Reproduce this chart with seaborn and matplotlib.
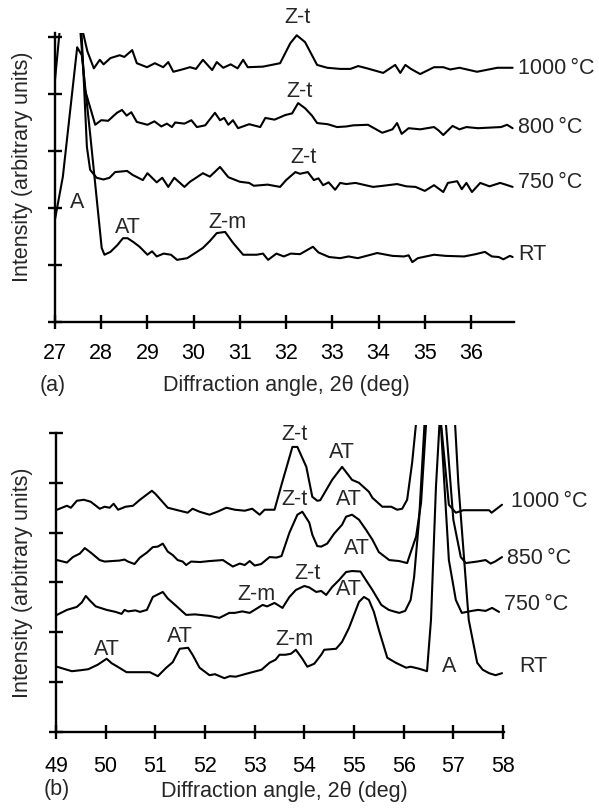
import matplotlib
matplotlib.use("Agg")
import matplotlib.pyplot as plt
import seaborn as sns

# ---------------- Panel (a): 27-37 deg ----------------
x_1000_a = [27.0, 27.1, 27.35, 27.6, 27.7, 27.84, 27.97, 28.05, 28.2, 28.4, 28.5, 28.67, 28.77,
            28.99, 29.16, 29.34, 29.45, 29.56, 29.75, 29.92, 30.05, 30.2, 30.4, 30.5, 30.64, 30.8,
            30.95, 31.07, 31.17, 31.5, 31.87, 32.09, 32.23, 32.41, 32.67, 32.89, 33.17, 33.39,
            33.56, 33.75, 34.1, 34.36, 34.47, 34.58, 34.7, 34.9, 35.2, 35.4, 35.55, 35.75, 36.13,
            36.57, 36.9]
y_1000_a = [4.25, 5.1, 7.0, 5.1, 4.75, 4.45, 4.6, 4.52, 4.63, 4.68, 4.65, 4.77, 4.54,
            4.47, 4.54, 4.47, 4.56, 4.39, 4.43, 4.47, 4.44, 4.6, 4.42, 4.56, 4.46, 4.52,
            4.45, 4.6, 4.47, 4.48, 4.54, 4.89, 5.03, 4.91, 4.51, 4.46, 4.44, 4.44,
            4.49, 4.45, 4.37, 4.51, 4.37, 4.51, 4.44, 4.35, 4.47, 4.47, 4.43, 4.46, 4.39,
            4.46, 4.46]

x_800_a = [27.5, 27.65, 27.87, 28.0, 28.15, 28.34, 28.45, 28.55, 28.65, 28.77, 29.0, 29.15, 29.3,
           29.42, 29.53, 29.6, 29.8, 29.95, 30.07, 30.25, 30.46, 30.57, 30.66, 30.75, 30.85, 30.96,
           31.2, 31.44, 31.55, 31.75, 31.98, 32.13, 32.26, 32.41, 32.56, 32.67, 32.9, 33.1, 33.3,
           33.45, 33.77, 34.08, 34.3, 34.4, 34.5, 34.65, 34.9, 35.2, 35.3, 35.4, 35.6, 35.75, 35.9,
           36.15, 36.4, 36.65, 36.78, 36.9]
y_800_a = [5.6, 4.07, 3.46, 3.54, 3.53, 3.67, 3.72, 3.62, 3.68, 3.51, 3.46, 3.52, 3.43,
           3.48, 3.42, 3.5, 3.48, 3.54, 3.42, 3.45, 3.67, 3.54, 3.58, 3.46, 3.54, 3.4,
           3.47, 3.42, 3.58, 3.55, 3.63, 3.66, 3.84, 3.75, 3.62, 3.49, 3.47, 3.42, 3.43,
           3.45, 3.46, 3.32, 3.38, 3.49, 3.3, 3.4, 3.38, 3.42, 3.36, 3.28, 3.44, 3.38, 3.42,
           3.4, 3.41, 3.42, 3.46, 3.4]

x_750_a = [27.55, 27.69, 27.76, 27.9, 28.05, 28.18, 28.3, 28.56, 28.68, 28.9, 29.0, 29.2, 29.32,
           29.45, 29.58, 29.8, 29.92, 30.2, 30.35, 30.57, 30.75, 31.0, 31.2, 31.3, 31.6, 31.87,
           32.0, 32.2, 32.3, 32.47, 32.6, 32.7, 32.8, 32.92, 33.06, 33.17, 33.3, 33.5, 33.88,
           34.1, 34.4, 34.6, 34.8, 35.0, 35.2, 35.4, 35.5, 35.7, 35.8, 35.9, 36.02, 36.2, 36.4,
           36.63, 36.75, 36.9]
y_750_a = [5.5, 3.07, 2.67, 2.53, 2.5, 2.53, 2.63, 2.65, 2.58, 2.49, 2.61, 2.45, 2.53,
           2.37, 2.53, 2.37, 2.46, 2.61, 2.55, 2.72, 2.54, 2.46, 2.44, 2.39, 2.41, 2.37,
           2.49, 2.63, 2.6, 2.63, 2.49, 2.52, 2.4, 2.45, 2.32, 2.44, 2.42, 2.44, 2.37,
           2.39, 2.42, 2.38, 2.37, 2.3, 2.4, 2.28, 2.44, 2.47, 2.33, 2.44, 2.28, 2.44, 2.38,
           2.44, 2.41, 2.37]

x_rt_a = [27.0, 27.17, 27.48, 27.58, 27.76, 28.01, 28.07, 28.2, 28.35, 28.47, 28.57, 28.7, 28.83,
          29.0, 29.1, 29.2, 29.35, 29.51, 29.64, 29.86, 30.07, 30.2, 30.35, 30.5, 30.68, 30.85,
          31.07, 31.36, 31.5, 31.61, 31.79, 31.95, 32.1, 32.3, 32.45, 32.58, 32.7, 32.93, 33.17,
          33.35, 33.55, 33.97, 34.3, 34.55, 34.65, 34.73, 34.85, 35.2, 35.45, 35.85, 36.1, 36.3,
          36.45, 36.6, 36.7, 36.84, 36.9]
y_rt_a = [1.8, 2.55, 4.82, 4.68, 3.3, 1.3, 1.18, 1.23, 1.35, 1.47, 1.47, 1.4, 1.32,
          1.18, 1.24, 1.15, 1.2, 1.18, 1.09, 1.12, 1.23, 1.3, 1.42, 1.56, 1.58, 1.39,
          1.18, 1.18, 1.2, 1.09, 1.2, 1.15, 1.2, 1.19, 1.26, 1.32, 1.22, 1.14, 1.12,
          1.15, 1.12, 1.21, 1.16, 1.15, 1.17, 1.05, 1.12, 1.18, 1.16, 1.15, 1.19, 1.23,
          1.15, 1.14, 1.1, 1.16, 1.14]

ticks_a = [27, 28, 29, 30, 31, 32, 33, 34, 35, 36]
temps_a = ["1000\u2009\u00b0C", "800\u2009\u00b0C", "750\u2009\u00b0C", "RT"]
temp_y_a = [4.44, 3.42, 2.44, 1.19]
peak_lbl_a = ["Z-t", "Z-t", "Z-t", "Z-m", "AT", "A"]
peak_x_a = [32.24, 32.28, 32.37, 30.74, 28.58, 27.48]
peak_y_a = [5.35, 4.04, 2.88, 1.75, 1.65, 2.09]

# ---------------- Panel (b): 49-58 deg ----------------
x_1000_b = [49.02, 49.22, 49.3, 49.42, 49.56, 49.7, 49.88, 49.98, 50.08, 50.16, 50.25, 50.4, 50.55,
            50.69, 50.93, 51.0, 51.25, 51.45, 51.65, 51.75, 51.89, 52.09, 52.25, 52.43, 52.6, 52.8,
            52.95, 53.1, 53.2, 53.4, 53.54, 53.76, 53.86, 54.04, 54.16, 54.26, 54.32, 54.56, 54.76,
            54.96, 55.1, 55.3, 55.37, 55.57, 55.75, 55.87, 55.97, 56.07, 56.17, 56.25, 56.48,
            56.91, 57.05, 57.2, 57.45, 57.72, 57.77, 57.98]
y_1000_b = [4.46, 4.54, 4.5, 4.64, 4.66, 4.62, 4.48, 4.52, 4.5, 4.58, 4.46, 4.52, 4.54,
            4.66, 4.84, 4.78, 4.5, 4.45, 4.4, 4.48, 4.42, 4.36, 4.42, 4.5, 4.46, 4.44,
            4.48, 4.36, 4.46, 4.46, 4.96, 5.72, 5.72, 5.32, 4.72, 4.64, 4.65, 5.06, 5.32,
            5.06, 5.0, 4.82, 4.7, 4.52, 4.52, 4.46, 4.48, 4.66, 5.4, 6.2, 9.0,
            4.56, 4.4, 4.45, 4.45, 4.45, 4.4, 4.56]

x_850_b = [49.02, 49.22, 49.34, 49.48, 49.58, 49.7, 49.88, 49.98, 50.28, 50.38, 50.45, 50.58, 50.69,
           50.83, 50.95, 51.05, 51.15, 51.25, 51.35, 51.45, 51.55, 51.62, 51.72, 51.9, 52.09, 52.36,
           52.56, 52.7, 52.8, 52.9, 53.0, 53.13, 53.3, 53.44, 53.54, 53.7, 53.86, 53.96, 54.1,
           54.16, 54.26, 54.34, 54.46, 54.6, 54.76, 54.84, 54.96, 55.1, 55.24, 55.37, 55.5, 55.71,
           55.91, 56.07, 56.14, 56.25, 56.35, 56.63, 57.0, 57.15, 57.25, 57.48, 57.65, 57.75,
           57.84, 57.98]
y_850_b = [3.45, 3.4, 3.51, 3.58, 3.69, 3.6, 3.45, 3.42, 3.44, 3.46, 3.42, 3.37, 3.5,
           3.6, 3.71, 3.72, 3.78, 3.62, 3.55, 3.45, 3.42, 3.35, 3.42, 3.41, 3.43, 3.45,
           3.32, 3.38, 3.35, 3.43, 3.34, 3.37, 3.51, 3.5, 3.53, 4.0, 4.36, 4.42, 4.2,
           3.96, 3.73, 3.72, 3.78, 3.98, 4.16, 4.32, 4.36, 4.26, 4.06, 3.86, 3.61, 3.45,
           3.43, 3.39, 3.6, 3.92, 4.6, 9.0, 4.26, 3.51, 3.39, 3.42, 3.45, 3.38,
           3.42, 3.51]

x_750_b = [49.02, 49.22, 49.42, 49.52, 49.6, 49.68, 49.8, 50.02, 50.2, 50.32, 50.38, 50.45, 50.6,
           50.69, 50.83, 50.95, 51.15, 51.25, 51.42, 51.62, 51.8, 52.09, 52.29, 52.49, 52.6, 52.75,
           52.9, 53.16, 53.25, 53.4, 53.56, 53.7, 53.83, 54.0, 54.1, 54.24, 54.34, 54.44, 54.56,
           54.7, 54.84, 54.96, 55.13, 55.2, 55.37, 55.55, 55.7, 55.8, 55.91, 56.03, 56.14, 56.21,
           56.31, 56.58, 56.91, 57.05, 57.17, 57.37, 57.5, 57.65, 57.78, 57.92]
y_750_b = [2.35, 2.45, 2.51, 2.6, 2.73, 2.64, 2.52, 2.45, 2.41, 2.37, 2.45, 2.42, 2.44,
           2.41, 2.45, 2.71, 2.81, 2.68, 2.53, 2.35, 2.36, 2.33, 2.29, 2.39, 2.39, 2.42,
           2.39, 2.55, 2.52, 2.59, 2.49, 2.71, 2.85, 2.93, 2.9, 2.81, 2.83, 2.75, 2.91,
           3.05, 3.21, 3.23, 3.22, 3.11, 2.85, 2.55, 2.45, 2.42, 2.39, 2.43, 2.65, 3.11,
           4.26, 9.0, 3.45, 2.65, 2.39, 2.43, 2.45, 2.43, 2.49, 2.41]

x_rt_b = [49.02, 49.15, 49.32, 49.5, 49.65, 49.84, 50.02, 50.12, 50.24, 50.42, 50.6, 50.75, 50.89,
          51.05, 51.22, 51.35, 51.49, 51.66, 51.75, 51.89, 52.09, 52.2, 52.39, 52.5, 52.62, 52.8,
          52.95, 53.14, 53.3, 53.42, 53.5, 53.62, 53.73, 53.83, 53.96, 54.06, 54.2, 54.34, 54.4,
          54.64, 54.76, 54.9, 55.1, 55.2, 55.3, 55.4, 55.5, 55.67, 55.84, 56.05, 56.14, 56.31,
          56.47, 56.55, 56.65, 56.88, 57.1, 57.31, 57.48, 57.59, 57.72, 57.85, 57.98]
y_rt_b = [1.31, 1.27, 1.22, 1.24, 1.26, 1.35, 1.47, 1.38, 1.31, 1.2, 1.2, 1.2, 1.2,
          1.12, 1.29, 1.4, 1.67, 1.69, 1.55, 1.29, 1.14, 1.16, 1.08, 1.12, 1.11, 1.16,
          1.2, 1.25, 1.39, 1.45, 1.55, 1.55, 1.57, 1.65, 1.47, 1.31, 1.37, 1.55, 1.65,
          1.67, 1.81, 2.09, 2.61, 2.71, 2.65, 2.41, 2.05, 1.49, 1.39, 1.29, 1.31, 1.27,
          1.22, 2.25, 4.92, 9.0, 5.0, 2.25, 1.39, 1.25, 1.18, 1.14, 1.18]

ticks_b = [49, 50, 51, 52, 53, 54, 55, 56, 57, 58]
temps_b = ["1000\u2009\u00b0C", "850\u2009\u00b0C", "750\u2009\u00b0C", "RT"]
temp_x_b = [58.16, 58.08, 58.02, 58.32]
temp_y_b = [4.62, 3.49, 2.55, 1.31]
peak_lbl_b = ["Z-t", "AT", "Z-t", "AT", "AT", "Z-t", "Z-m", "AT", "Z-m", "AT", "AT", "A"]
peak_x_b = [53.8, 54.76, 53.8, 54.9, 55.06, 54.06, 53.04, 54.9, 53.8, 50.02, 51.49, 56.91]
peak_y_b = [5.96, 5.6, 4.66, 4.66, 3.69, 3.19, 2.75, 2.85, 1.85, 1.65, 1.91, 1.31]

xlabel = "Diffraction angle, 2\u03b8 (deg)"
ylabel = "Intensity (arbitrary units)"

# ---------------- style ----------------
sns.set_style("ticks")
plt.rcParams["font.family"] = ["Liberation Sans", "DejaVu Sans"]
FS = 15.5

fig = plt.figure(figsize=(5.99, 8.08), dpi=100)
W, H = 599, 808
ax1 = fig.add_axes([55 / W, (H - 322) / H, 459 / W, 289 / H])
ax2 = fig.add_axes([56 / W, (H - 732) / H, 448 / W, 307 / H])


def style(ax, xt, ymax_tick, pad):
    ax.set_xticks(xt)
    ax.set_xticklabels([str(t) for t in xt])
    ax.set_yticks(list(range(0, ymax_tick + 1)))
    ax.set_yticklabels([])
    for s in ["top", "right"]:
        ax.spines[s].set_visible(False)
    for s in ["left", "bottom"]:
        ax.spines[s].set_linewidth(1.7)
        ax.spines[s].set_color("black")
    ax.tick_params(axis="both", direction="inout", length=10, width=1.7,
                   colors="black", labelsize=FS, pad=pad)
    ax.set_facecolor("white")


for xs, ys in [(x_1000_a, y_1000_a), (x_800_a, y_800_a), (x_750_a, y_750_a), (x_rt_a, y_rt_a)]:
    sns.lineplot(x=xs, y=ys, ax=ax1, color="black", linewidth=1.5, sort=False, estimator=None)
for xs, ys in [(x_1000_b, y_1000_b), (x_850_b, y_850_b), (x_750_b, y_750_b), (x_rt_b, y_rt_b)]:
    sns.lineplot(x=xs, y=ys, ax=ax2, color="black", linewidth=1.5, sort=False, estimator=None)

ax1.set_xlim(27, 36.93)
ax1.set_ylim(0, 5.07)
ax2.set_xlim(49, 58.02)
ax2.set_ylim(0, 6.16)
style(ax1, ticks_a, 5, 10)
style(ax2, ticks_b, 6, 12)
ax2.spines["left"].set_bounds(0, 6)

for s, y in zip(temps_a, temp_y_a):
    ax1.text(37.02, y, s, ha="left", va="center", fontsize=FS)
for s, x, y in zip(peak_lbl_a, peak_x_a, peak_y_a):
    ax1.text(x, y, s, ha="center", va="center", fontsize=FS)
for s, x, y in zip(temps_b, temp_x_b, temp_y_b):
    ax2.text(x, y, s, ha="left", va="center", fontsize=FS)
for s, x, y in zip(peak_lbl_b, peak_x_b, peak_y_b):
    ax2.text(x, y, s, ha="center", va="center", fontsize=FS)

ax1.set_xlabel(xlabel, fontsize=FS)
ax2.set_xlabel(xlabel, fontsize=FS)
ax1.set_ylabel(ylabel, fontsize=FS)
ax2.set_ylabel(ylabel, fontsize=FS)
ax1.xaxis.set_label_coords(0.505, -0.183)
ax2.xaxis.set_label_coords(0.509, -0.16)
ax1.yaxis.set_label_coords(-0.048, 0.536)
ax2.yaxis.set_label_coords(-0.051, 0.485)

fig.text(53 / W, 1 - 385 / H, "(a)", ha="center", va="center", fontsize=FS)
fig.text(57 / W, 1 - 790 / H, "(b)", ha="center", va="center", fontsize=FS)

fig.savefig("out.png", dpi=100, facecolor="white")
